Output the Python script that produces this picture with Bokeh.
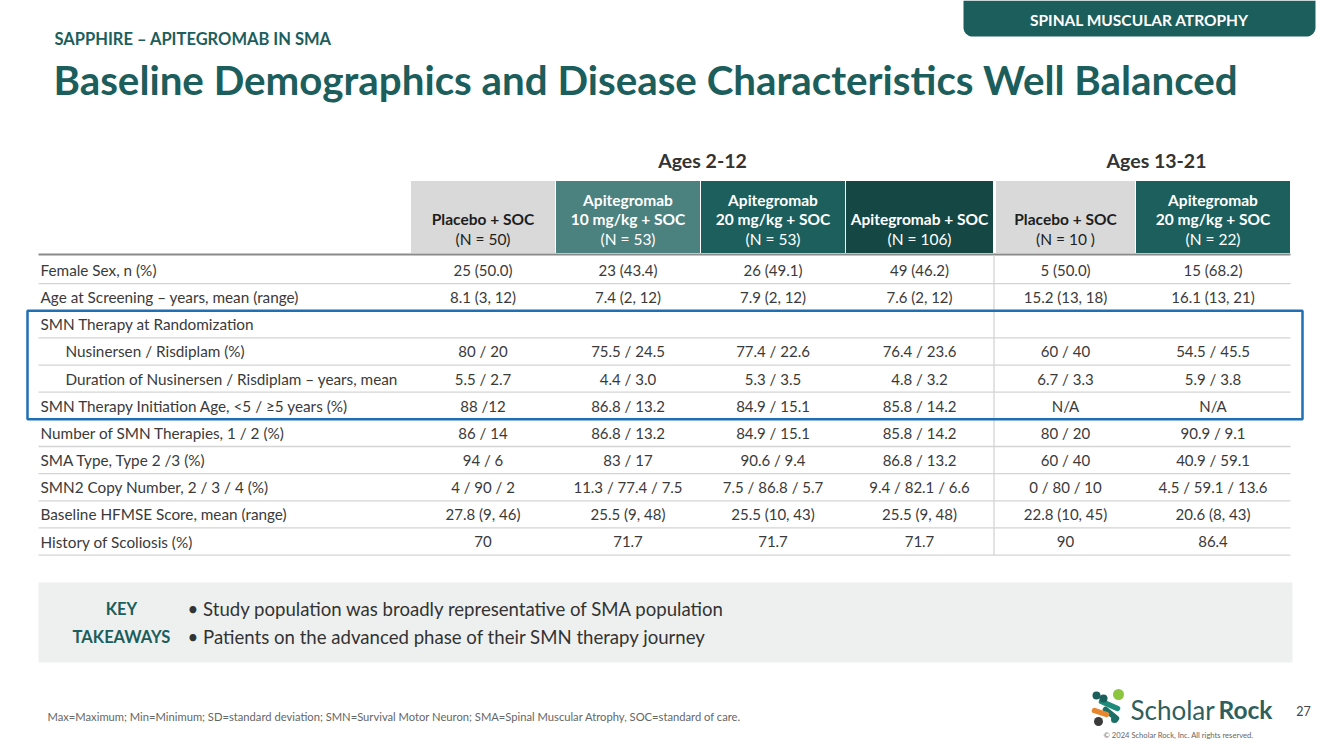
from bokeh.plotting import figure
from bokeh.models import Range1d, ColumnDataSource
from bokeh.embed import file_html
from bokeh.resources import INLINE
from bokeh.core.properties import value
import numpy as np

# ---------------- data ----------------
section_label = "SPINAL MUSCULAR ATROPHY"
kicker = "SAPPHIRE – APITEGROMAB IN SMA"
title = "Baseline Demographics and Disease Characteristics Well Balanced"
age_groups = ["Ages 2-12", "Ages 13-21"]
col_titles = [["Placebo + SOC"], ["Apitegromab", "10 mg/kg + SOC"], ["Apitegromab", "20 mg/kg + SOC"],
              ["Apitegromab + SOC"], ["Placebo + SOC"], ["Apitegromab", "20 mg/kg + SOC"]]
col_n = ["(N = 50)", "(N = 53)", "(N = 53)", "(N = 106)", "(N = 10 )", "(N = 22)"]
row_labels = [
    "Female Sex, n (%)",
    "Age at Screening – years, mean (range)",
    "SMN Therapy at Randomization",
    "Nusinersen / Risdiplam (%)",
    "Duration of Nusinersen / Risdiplam – years, mean",
    "SMN Therapy Initiation Age, <5 / ≥5 years (%)",
    "Number of SMN Therapies, 1 / 2 (%)",
    "SMA Type, Type 2 /3 (%)",
    "SMN2 Copy Number, 2 / 3 / 4 (%)",
    "Baseline HFMSE Score, mean (range)",
    "History of Scoliosis (%)",
]
row_indent = [0, 0, 0, 1, 1, 0, 0, 0, 0, 0, 0]
placebo_2_12 = ["25 (50.0)", "8.1 (3, 12)", "", "80 / 20", "5.5 / 2.7", "88 /12", "86 / 14", "94 / 6",
                "4 / 90 / 2", "27.8 (9, 46)", "70"]
apit10_2_12 = ["23 (43.4)", "7.4 (2, 12)", "", "75.5 / 24.5", "4.4 / 3.0", "86.8 / 13.2", "86.8 / 13.2",
               "83 / 17", "11.3 / 77.4 / 7.5", "25.5 (9, 48)", "71.7"]
apit20_2_12 = ["26 (49.1)", "7.9 (2, 12)", "", "77.4 / 22.6", "5.3 / 3.5", "84.9 / 15.1", "84.9 / 15.1",
               "90.6 / 9.4", "7.5 / 86.8 / 5.7", "25.5 (10, 43)", "71.7"]
apit_all_2_12 = ["49 (46.2)", "7.6 (2, 12)", "", "76.4 / 23.6", "4.8 / 3.2", "85.8 / 14.2", "85.8 / 14.2",
                 "86.8 / 13.2", "9.4 / 82.1 / 6.6", "25.5 (9, 48)", "71.7"]
placebo_13_21 = ["5 (50.0)", "15.2 (13, 18)", "", "60 / 40", "6.7 / 3.3", "N/A", "80 / 20", "60 / 40",
                 "0 / 80 / 10", "22.8 (10, 45)", "90"]
apit20_13_21 = ["15 (68.2)", "16.1 (13, 21)", "", "54.5 / 45.5", "5.9 / 3.8", "N/A", "90.9 / 9.1",
                "40.9 / 59.1", "4.5 / 59.1 / 13.6", "20.6 (8, 43)", "86.4"]
columns = [placebo_2_12, apit10_2_12, apit20_2_12, apit_all_2_12, placebo_13_21, apit20_13_21]
highlight_rows = [2, 5]  # first and last row inside the blue box
takeaway_label = ["KEY", "TAKEAWAYS"]
takeaways = ["Study population was broadly representative of SMA population",
             "Patients on the advanced phase of their SMN therapy journey"]
footnote = ("Max=Maximum; Min=Minimum; SD=standard deviation; SMN=Survival Motor Neuron; "
            "SMA=Spinal Muscular Atrophy, SOC=standard of care.")
page_number = "27"
copyright_text = "© 2024 Scholar Rock, Inc. All rights reserved."
logo_words = ["Scholar", "Rock"]

# ---------------- style / layout ----------------
TEAL = "#1c5e5c"
FONT = "Lato"
TXT = "#3a3a3a"
col_edges = [(410, 555), (555, 700), (700, 845), (845, 993), (995, 1135), (1135, 1290)]
col_fill = ["#d9d9d9", "#4b817f", "#1c5f5d", "#154845", "#d9d9d9", "#1c5f5d"]
col_text = ["#1e1e1e", "white", "white", "white", "#1e1e1e", "white"]
row_y0 = 269.5
row_h = 27.15
tbl_x0, tbl_x1 = 38, 1290

W, H = 1325, 741
p = figure(width=W, height=H, x_range=Range1d(0, W), y_range=Range1d(H, 0),
           output_backend="svg", toolbar_location=None, min_border=0)
p.axis.visible = False
p.grid.visible = False
p.outline_line_color = None
p.background_fill_color = "white"
p.border_fill_color = "white"

def txt(x, y, s, size, color=TXT, bold=False, align="left", font=FONT, baseline="middle"):
    p.text(x=[x], y=[y], text=[s], text_font=value(font), text_font_size=f"{size}px",
           text_color=color, text_font_style="bold" if bold else "normal",
           text_align=align, text_baseline=baseline)

# banner with rounded bottom corners
r = 9
bx0, bx1, by0, by1 = 963, 1315, 0, 36
ang_l = np.linspace(np.pi, np.pi / 2, 12)   # bottom-left corner
ang_r = np.linspace(np.pi / 2, 0, 12)       # bottom-right corner
px = [bx0] + list(bx0 + r + r * np.cos(ang_l)) + list(bx1 - r + r * np.cos(ang_r)) + [bx1]
py = [by0] + list(by1 - r + r * np.sin(ang_l)) + list(by1 - r + r * np.sin(ang_r)) + [by0]
p.patch(px, py, fill_color=TEAL, line_color=None)
txt((bx0 + bx1) / 2, 19, section_label, 15.5, color="white", bold=True, align="center")

# kicker + title
txt(54, 38, kicker, 16.5, color=TEAL, bold=True)
txt(53, 79, title, 40.3, color=TEAL, bold=True)

# age group headings
txt(702, 160, age_groups[0], 19.5, color="#333333", bold=True, align="center")
txt(1156, 160, age_groups[1], 19.5, color="#333333", bold=True, align="center")

# header cells
p.quad(left=[e[0] for e in col_edges], right=[e[1] for e in col_edges], top=[180] * 6,
       bottom=[253] * 6, fill_color=col_fill, line_color="white", line_width=1)
for i, (names, n) in enumerate(zip(col_titles, col_n)):
    cx = (col_edges[i][0] + col_edges[i][1]) / 2
    ys = [199, 218] if len(names) == 2 else [218]
    for s, yy in zip(names, ys):
        txt(cx, yy, s, 15.5, color=col_text[i], bold=True, align="center")
    txt(cx, 238, n, 15.5, color=col_text[i], align="center")

p.segment(x0=[tbl_x0], x1=[tbl_x1], y0=[254], y1=[254], line_color="#8a8a8a", line_width=2)

# body rows
n_rows = len(row_labels)
row_c = [row_y0 + row_h * i for i in range(n_rows)]
sep_y = [c + row_h / 2 for c in row_c]
p.segment(x0=[tbl_x0] * n_rows, x1=[tbl_x1] * n_rows, y0=sep_y, y1=sep_y,
          line_color="#d4d4d4", line_width=1.3)
p.segment(x0=[993.5], x1=[993.5], y0=[255], y1=[sep_y[-1]], line_color="#d4d4d4", line_width=1.3)

lab_src = ColumnDataSource(dict(x=[40 + 25 * ind for ind in row_indent], y=row_c, t=row_labels))
p.text(x="x", y="y", text="t", source=lab_src, text_font=value(FONT), text_font_size="15.3px",
       text_color=TXT, text_baseline="middle", text_align="left")
vx, vy, vt = [], [], []
for i, col in enumerate(columns):
    cx = (col_edges[i][0] + col_edges[i][1]) / 2
    for j, s in enumerate(col):
        vx.append(cx); vy.append(row_c[j]); vt.append(s)
p.text(x=vx, y=vy, text=vt, text_font=value(FONT), text_font_size="15px",
       text_color=TXT, text_baseline="middle", text_align="center")

# blue highlight box
top_b = row_c[highlight_rows[0]] - row_h / 2
bot_b = row_c[highlight_rows[1]] + row_h / 2
p.quad(left=[27], right=[1302], top=[top_b], bottom=[bot_b], fill_color=None,
       line_color="#1f6fb5", line_width=2.5)

# key takeaways box
p.quad(left=[38], right=[1292], top=[582], bottom=[662], fill_color="#eef0ef", line_color=None)
txt(121, 608, takeaway_label[0], 16.5, color=TEAL, bold=True, align="center")
txt(121, 636, takeaway_label[1], 16.5, color=TEAL, bold=True, align="center")
for k, s in enumerate(takeaways):
    txt(187, 608 + 28 * k, "• " + s, 18.6, color="#333333")

# footer
txt(47, 716, footnote, 11.2, color="#666666")
txt(1303, 710, page_number, 12.5, color="#444444", align="center")
txt(1178, 734, copyright_text, 7.6, color="#666666", align="center")

# logo icon
p.segment(x0=[1101, 1105, 1094], y0=[701, 709, 710], x1=[1117, 1116, 1106], y1=[708, 718, 714],
          line_color=["#1e8a7a", "#1b6f66", "#e8862e"], line_width=5.5, line_cap="round")
p.scatter(x=[1118, 1096, 1103, 1098, 1114], y=[694, 695, 698, 721, 719], size=[11, 8, 8, 9, 7],
          fill_color=["#8cc63f", "#1b5e5c", "#1b5e5c", "#3b3b3b", "#1b6f66"], line_color=None)
txt(1130, 709, logo_words[0], 26, color="#2e5f5e")
txt(1218, 709, logo_words[1], 24.5, color="#2e5f5e", bold=True)

open("out.html", "w").write(file_html(p, INLINE))
